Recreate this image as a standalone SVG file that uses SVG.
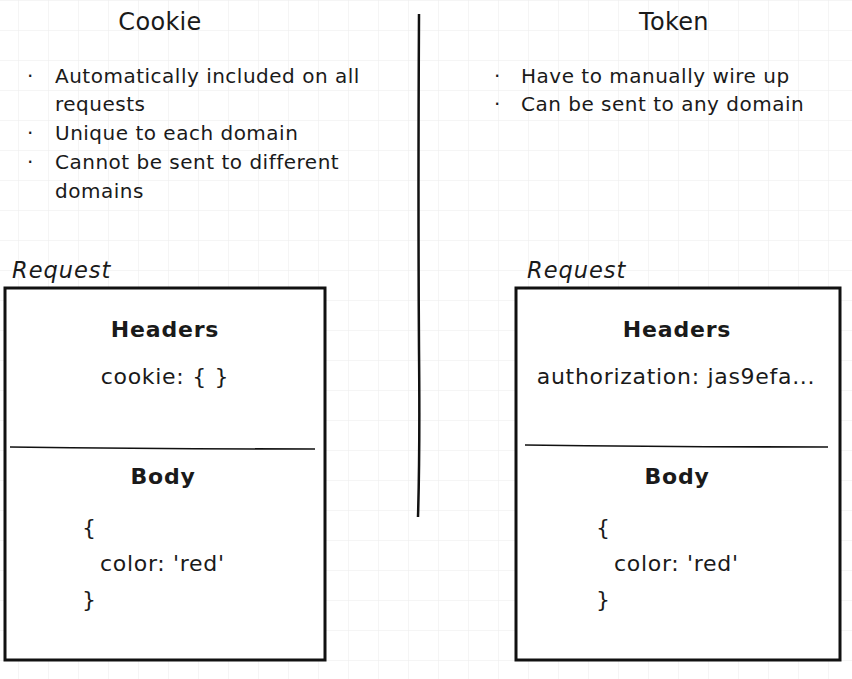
<svg xmlns="http://www.w3.org/2000/svg" width="852" height="679" viewBox="0 0 852 679">
<defs>
<pattern id="grid" x="18" y="0" width="30" height="30" patternUnits="userSpaceOnUse">
<path d="M0 0V30M0 0H30" fill="none" stroke="#ebebeb" stroke-width="1"/>
</pattern>
</defs>
<style>
text{font-family:"DejaVu Sans","Liberation Sans",sans-serif;fill:#1a1a1a}
.t{font-size:24px;letter-spacing:0.3px;text-anchor:middle}
.b{font-size:20px;letter-spacing:0.5px}
.req{font-size:22.5px;font-style:italic;letter-spacing:1px}
.h{font-size:22px;font-weight:bold;letter-spacing:0.8px;text-anchor:middle}
.c{font-size:22px;letter-spacing:0.7px}
.box{fill:#fff;stroke:#111;stroke-width:3}
.sep{stroke:#111;stroke-width:1.6;fill:none}
</style>
<rect width="852" height="679" fill="#fff"/>
<rect width="852" height="679" fill="url(#grid)"/>
<g id="connectors">
<path d="M419 14 Q418 200 419 350 Q420 450 418 517" fill="none" stroke="#111" stroke-width="2.5"/>
</g>
<g id="cookie-col">
<text class="t" x="160" y="30">Cookie</text>
<text class="b" x="27" y="83">·</text>
<text class="b" x="55" y="83">Automatically included on all</text>
<text class="b" x="55" y="111">requests</text>
<text class="b" x="27" y="140">·</text>
<text class="b" x="55" y="140">Unique to each domain</text>
<text class="b" x="27" y="169">·</text>
<text class="b" x="55" y="169">Cannot be sent to different</text>
<text class="b" x="55" y="198">domains</text>
</g>
<g id="token-col">
<text class="t" x="674" y="30">Token</text>
<text class="b" x="494" y="83">·</text>
<text class="b" x="521" y="83">Have to manually wire up</text>
<text class="b" x="494" y="111">·</text>
<text class="b" x="521" y="111">Can be sent to any domain</text>
</g>
<g id="cookie-request">
<text class="req" x="12" y="278">Request</text>
<rect class="box" x="5" y="288" width="320" height="372"/>
<path class="sep" d="M10 447 Q160 449 315 449"/>
<text class="h" x="165" y="337">Headers</text>
<text class="c" x="165" y="384" text-anchor="middle">cookie: { }</text>
<text class="h" x="163" y="484">Body</text>
<text class="c" x="82" y="535">{</text>
<text class="c" x="100" y="571">color: 'red'</text>
<text class="c" x="82" y="607">}</text>
</g>
<g id="token-request">
<text class="req" x="527" y="278">Request</text>
<rect class="box" x="516" y="288" width="324" height="372"/>
<path class="sep" d="M525 445 Q680 447 828 447"/>
<text class="h" x="677" y="337">Headers</text>
<text class="c" x="676" y="384" text-anchor="middle">authorization: jas9efa...</text>
<text class="h" x="677" y="484">Body</text>
<text class="c" x="596" y="535">{</text>
<text class="c" x="614" y="571">color: 'red'</text>
<text class="c" x="596" y="607">}</text>
</g>
</svg>
